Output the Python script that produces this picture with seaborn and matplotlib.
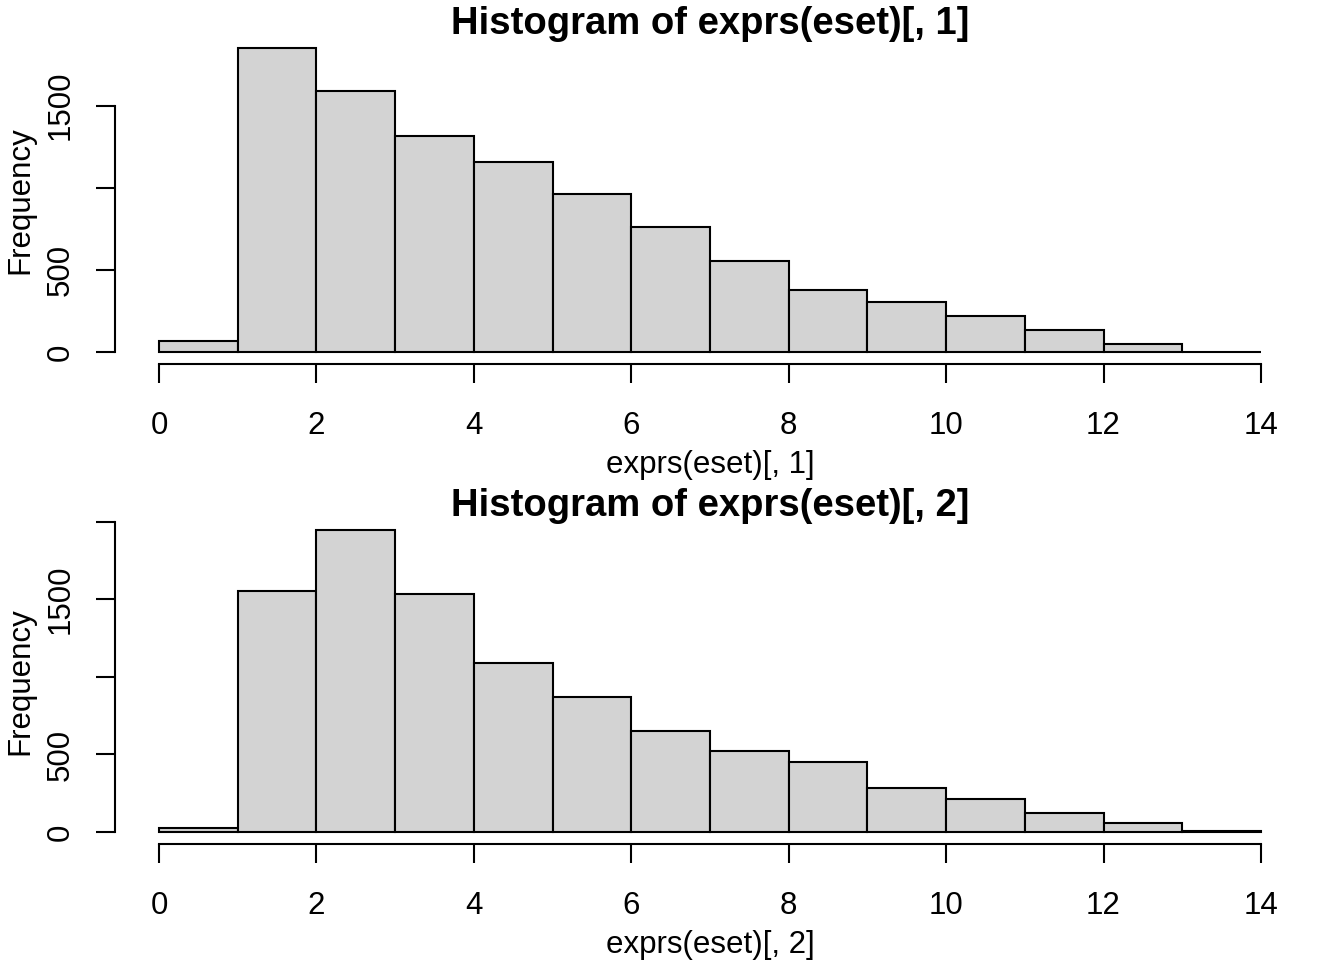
import numpy as np
import matplotlib
matplotlib.use("Agg")
import matplotlib.pyplot as plt
import seaborn as sns

# --- DATA ---
bin_edges = [0, 1, 2, 3, 4, 5, 6, 7, 8, 9, 10, 11, 12, 13, 14]
counts_1 = [65, 1850, 1588, 1317, 1158, 963, 759, 553, 375, 306, 216, 136, 45, 2]
counts_2 = [26, 1556, 1948, 1536, 1092, 871, 652, 524, 453, 285, 214, 124, 58, 9]
titles = ["Histogram of exprs(eset)[, 1]", "Histogram of exprs(eset)[, 2]"]
xlabels = ["exprs(eset)[, 1]", "exprs(eset)[, 2]"]
xticks = [0, 2, 4, 6, 8, 10, 12, 14]
yticks_1 = [0, 500, 1000, 1500]
ytick_labels_1 = ["0", "500", "", "1500"]
yticks_2 = [0, 500, 1000, 1500, 2000]
ytick_labels_2 = ["0", "500", "", "1500", ""]

sns.set_style("white")
plt.rcParams['font.family'] = ['Liberation Sans', 'DejaVu Sans']
plt.rcParams['text.color'] = 'black'
plt.rcParams['axes.labelcolor'] = 'black'

fig = plt.figure(figsize=(13.44, 9.6), dpi=100)
# axes placed like R's plot regions
ax1 = fig.add_axes([115 / 1344, 1 - 364 / 960, 1190 / 1344, 328 / 960])
ax2 = fig.add_axes([115 / 1344, 1 - 844 / 960, 1190 / 1344, 326 / 960])

panels = [
    (ax1, counts_1, yticks_1, ytick_labels_1),
    (ax2, counts_2, yticks_2, ytick_labels_2),
]

for i, (ax, counts, yt, ytl) in enumerate(panels):
    centers = np.array(bin_edges[:-1]) + 0.5
    sns.histplot(x=centers, weights=counts, bins=bin_edges, ax=ax,
                 color="#D3D3D3", edgecolor="black", linewidth=1.5, alpha=1)
    ymax = max(counts)
    ax.set_xlim(-0.56, 14.56)
    ax.set_ylim(-0.04 * ymax, 1.04 * ymax)
    ax.set_xticks(xticks)
    ax.set_xticklabels([str(t) for t in xticks])
    ax.set_yticks(yt)
    ax.set_yticklabels(ytl, rotation=90, va="center")
    for s in ["top", "right"]:
        ax.spines[s].set_visible(False)
    ax.spines["left"].set_bounds(yt[0], yt[-1])
    ax.spines["bottom"].set_bounds(0, 14)
    for s in ["left", "bottom"]:
        ax.spines[s].set_linewidth(1.5)
        ax.spines[s].set_color("black")
    ax.tick_params(axis="both", bottom=True, left=True, direction="out",
                   length=14, width=1.5, color="black",
                   labelsize=22.5, labelcolor="black")
    ax.tick_params(axis="x", pad=19.5)
    ax.tick_params(axis="y", pad=14)
    ax.set_ylabel("Frequency", fontsize=22.5, labelpad=8)
    ax.set_xlabel(xlabels[i], fontsize=22.5, labelpad=7)
    ax.set_title(titles[i], fontsize=27.5, fontweight="bold", pad=1.5)

fig.savefig("out.png", dpi=100)
